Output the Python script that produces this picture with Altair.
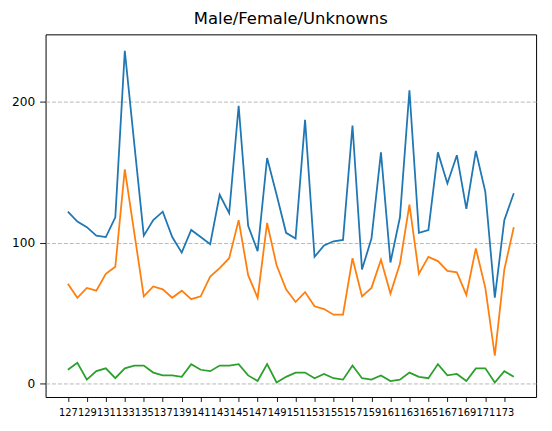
import altair as alt
import pandas as pd

x_vals = list(range(127, 175))
male = [122, 115, 111, 105, 104, 118, 236, 170, 105, 116, 122, 104, 93, 109, 104, 99,
        134, 121, 197, 112, 94, 160, 134, 107, 103, 187, 90, 98, 101, 102, 183, 81,
        103, 164, 86, 118, 208, 107, 109, 164, 142, 162, 124, 165, 136, 61, 116, 135]
female = [71, 61, 68, 66, 78, 83, 152, 107, 62, 69, 67, 61, 66, 60, 62, 76,
          82, 89, 116, 77, 61, 114, 84, 67, 58, 65, 55, 53, 49, 49, 89, 62,
          68, 88, 64, 85, 127, 78, 90, 87, 80, 79, 63, 96, 68, 20, 81, 111]
unknown = [10, 15, 3, 9, 11, 4, 11, 13, 13, 8, 6, 6, 5, 14, 10, 9,
           13, 13, 14, 6, 2, 14, 1, 5, 8, 8, 4, 7, 4, 3, 13, 4,
           3, 6, 2, 3, 8, 5, 4, 14, 6, 7, 2, 11, 11, 1, 9, 5]
series_names = ["Male", "Female", "Unknown"]
series_colors = ["#1f77b4", "#ff7f0e", "#2ca02c"]
x_ticks = list(range(127, 175, 2))
y_ticks = [0, 100, 200]

rows = []
for name, vals in zip(series_names, [male, female, unknown]):
    for xv, v in zip(x_vals, vals):
        rows.append({"x": xv, "value": v, "series": name})
df = pd.DataFrame(rows)

FONT = "DejaVu Sans"

chart = alt.Chart(df).mark_line(strokeWidth=1.8, clip=True).encode(
    x=alt.X("x:Q",
            scale=alt.Scale(domain=[124.65, 176.35], nice=False, zero=False),
            axis=alt.Axis(values=x_ticks, format="d", title=None, grid=False,
                          labelFontSize=10, labelOverlap=False, labelFlush=False,
                          tickSize=4.5, labelPadding=6)),
    y=alt.Y("value:Q",
            scale=alt.Scale(domain=[-9.3, 247.6], nice=False, zero=False),
            axis=alt.Axis(values=y_ticks, title=None, grid=True,
                          gridDash=[4, 2], gridColor="#b0b0b0", gridWidth=0.9,
                          labelFontSize=12.3, tickSize=6, labelPadding=5)),
    color=alt.Color("series:N",
                    scale=alt.Scale(domain=series_names, range=series_colors),
                    legend=None),
    detail="series:N",
    order="x:Q",
).properties(
    width=496,
    height=366.7,
    title=alt.TitleParams("Male/Female/Unknowns", fontSize=16.6, font=FONT,
                          fontWeight="normal", color="black", offset=7),
    autosize=alt.AutoSizeParams(type="none"),
    padding={"left": 38, "top": 24.3, "right": 8, "bottom": 30},
).configure_axis(
    labelFont=FONT,
    labelColor="black",
    domain=False,
    tickColor="black",
    tickWidth=0.9,
).configure_view(
    stroke="black",
    strokeWidth=1,
)

chart.save("out.html", embed_options={"renderer": "svg", "actions": False})
